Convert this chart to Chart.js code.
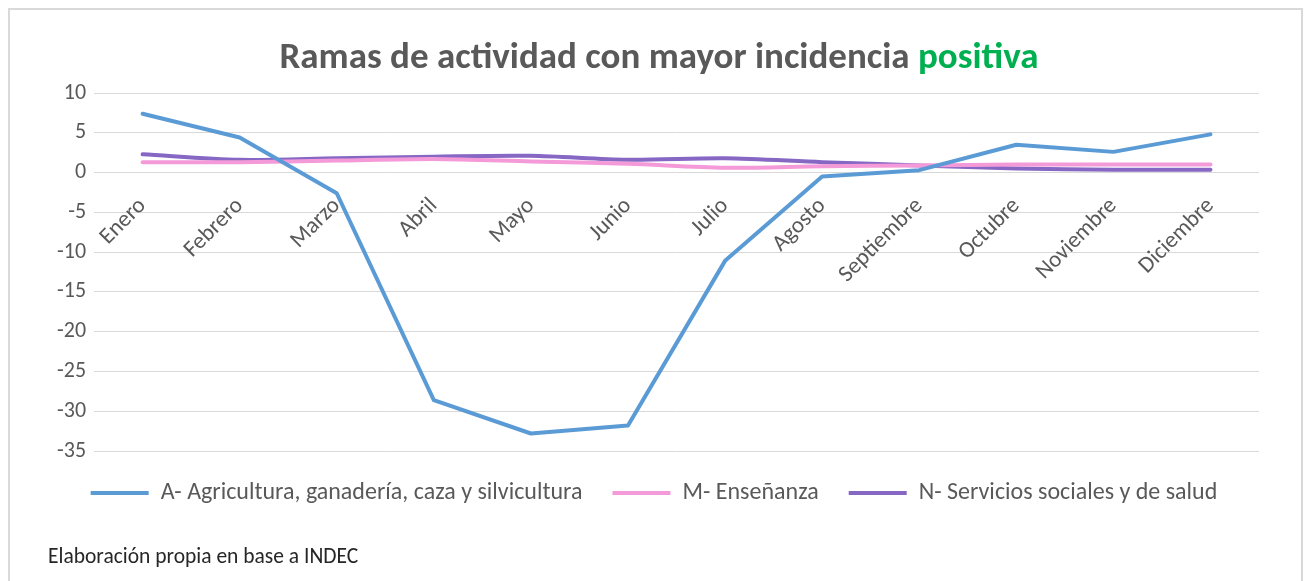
<!DOCTYPE html>
<html>
<head>
<meta charset="utf-8">
<script src="https://cdn.jsdelivr.net/npm/chart.js@4"></script>
<style>
  html, body { margin: 0; padding: 0; background: #fff; }
  #wrap { position: relative; width: 1310px; height: 581px; overflow: hidden; font-family: Carlito, Lato, sans-serif; }
  #frame { position: absolute; left: 8px; top: 8px; width: 1295px; height: 600px; border: 2px solid #d9d9d9; box-sizing: border-box; }
  #title { position: absolute; left: 0; width: 1318px; top: 33px; text-align: center; font-size: 37px; font-weight: bold; color: #595959; }
  #title span { color: #00b050; }
  #note { position: absolute; left: 48px; top: 543px; font-size: 21.5px; color: #262626; }
  canvas { position: absolute; left: 0; top: 0; }
</style>
</head>
<body>
<div id="wrap">
  <div id="frame"></div>
  <canvas id="chart" width="1310" height="581"></canvas>
  <div id="title">Ramas de actividad con mayor incidencia <span>positiva</span></div>
  <div id="note">Elaboración propia en base a INDEC</div>
</div>
<script>
  const months = ['Enero', 'Febrero', 'Marzo', 'Abril', 'Mayo', 'Junio', 'Julio', 'Agosto', 'Septiembre', 'Octubre', 'Noviembre', 'Diciembre'];
  const agricultura = [7.4, 4.4, -2.6, -28.6, -32.8, -31.8, -11.1, -0.5, 0.3, 3.5, 2.6, 4.8];
  const ensenanza   = [1.3, 1.3, 1.5, 1.7, 1.4, 1.1, 0.6, 0.8, 0.9, 1.0, 1.0, 1.0];
  const servicios   = [2.3, 1.6, 1.8, 2.0, 2.1, 1.6, 1.8, 1.3, 0.9, 0.5, 0.35, 0.35];
  const seriesNames = ['A- Agricultura, ganadería, caza y silvicultura', 'M- Enseñanza', 'N- Servicios sociales y de salud'];
  const yTicks = [10, 5, 0, -5, -10, -15, -20, -25, -30, -35];

  const FONT = 'Carlito, Lato, sans-serif';
  const GREY = '#595959';

  function line(label, data, color, tension) {
    return {
      label, data,
      borderColor: color, backgroundColor: color,
      borderWidth: 4, borderCapStyle: 'round', borderJoinStyle: 'round',
      pointRadius: 0, tension
    };
  }

  new Chart(document.getElementById('chart'), {
    type: 'line',
    data: {
      labels: months,
      datasets: [
        line(seriesNames[0], agricultura, '#5B9BD5', 0),
        line(seriesNames[1], ensenanza, '#F49AD9', 0.3),
        line(seriesNames[2], servicios, '#8667C4', 0.3)
      ]
    },
    options: {
      responsive: false,
      animation: false,
      layout: { padding: { top: 93, left: 49, right: 51, bottom: 66 } },
      plugins: {
        title: { display: false },
        tooltip: { enabled: false },
        legend: {
          position: 'bottom',
          labels: {
            usePointStyle: true, pointStyle: 'line', pointStyleWidth: 58,
            color: GREY, font: { family: FONT, size: 24 }, padding: 30
          }
        }
      },
      scales: {
        x: {
          position: { y: 0 },
          offset: true,
          grid: { display: false },
          border: { display: false },
          ticks: {
            color: GREY, font: { family: FONT, size: 23 },
            minRotation: 45, maxRotation: 45, autoSkip: false, padding: 12
          }
        },
        y: {
          min: -35, max: 10,
          afterBuildTicks: s => { s.ticks = yTicks.map(v => ({ value: v })); },
          grid: { color: '#d9d9d9', lineWidth: 1, drawTicks: false },
          border: { display: false },
          ticks: { color: GREY, font: { family: FONT, size: 22 }, padding: 8 }
        }
      }
    }
  });
</script>
</body>
</html>
